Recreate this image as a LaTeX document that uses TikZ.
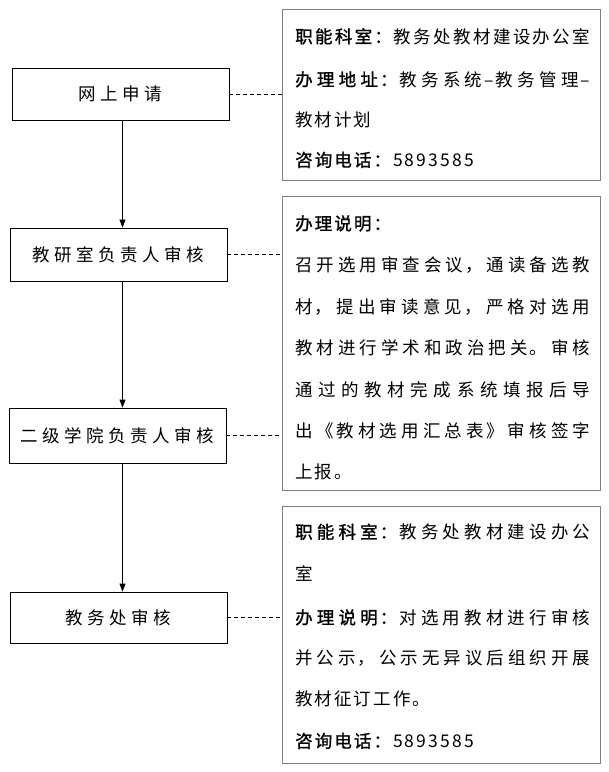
\documentclass[tikz,border=0pt]{standalone}
\usepackage{fontspec}
\setmainfont{Noto Sans CJK SC}
\newfontfamily\lfont[LetterSpace=26]{Noto Sans CJK SC}
\newfontfamily\rfont[LetterSpace=12,BoldFont={Noto Sans CJK SC},BoldFeatures={FakeBold=1.2}]{Noto Sans CJK SC}
\usetikzlibrary{arrows.meta}
\XeTeXlinebreaklocale "zh"
\XeTeXlinebreakskip=0pt plus 10pt
\newcommand\jline[1]{\parbox[b]{295pt}{\tolerance=10000\parfillskip=0pt\relax #1}}
\begin{document}
\begin{tikzpicture}[x=1pt,y=-1pt,
  lbox/.style={draw=black, line width=0.8pt, minimum width=217pt, inner sep=0pt,
    font=\lfont\fontsize{17.5pt}{20pt}\selectfont},
  rbox/.style={draw=black!50, line width=1pt, minimum width=318pt, inner sep=0pt},
  tl/.style={anchor=base west, inner sep=0pt, font=\rfont\fontsize{17.5pt}{20pt}\selectfont},
  arr/.style={-{Triangle[length=8pt,width=6pt]}, line width=0.8pt},
  dsh/.style={dash pattern=on 4pt off 3pt, line width=0.8pt}]
\fill[white] (0,0) rectangle (609,772);
\useasboundingbox (0,0) rectangle (609,772);
% left boxes
\node[lbox, minimum height=52pt] (s1) at (120.5,94) {网上申请};
\node[lbox, minimum height=53pt] (s2) at (118.5,254.5) {教研室负责人审核};
\node[lbox, minimum height=55pt] (s3) at (117.5,435.5) {二级学院负责人审核};
\node[lbox, minimum height=51pt] (s4) at (118.5,617.5) {教务处审核};
\coordinate (ax) at (122.5,0);
% right boxes
\node[rbox, minimum height=171pt] (rA) at (441,94.8) {};
\node[rbox, minimum height=294pt] (rB) at (441,343) {};
\node[rbox, minimum height=257pt] (rC) at (441,634.5) {};
% texts box A
\node[tl] (a1) at (295,43) {\jline{\textbf{职能科室：}教务处教材建设办公室}};
\node[tl] (a2) at (295,86) {\jline{\textbf{办理地址：}教务系统–教务管理–}};
\node[tl] (a3) at (295,126.5) {教材计划};
\node[tl] (a4) at (295,166.5) {\textbf{咨询电话：}5893585};
% texts box B
\node[tl] (b1) at (295,230) {\textbf{办理说明：}};
\node[tl] (b2) at (295,271.5) {\jline{召开选用审查会议，通读备选教}};
\node[tl] (b3) at (295,313) {\jline{材，提出审读意见，严格对选用}};
\node[tl] (b4) at (295,354.5) {\jline{教材进行学术和政治把关。审核}};
\node[tl] (b5) at (295,396.5) {\jline{通过的教材完成系统填报后导}};
\node[tl] (b6) at (295,437.5) {\jline{出《教材选用汇总表》审核签字}};
\node[tl] (b7) at (295,478) {上报。};
% texts box C
\node[tl] (c1) at (295,538.5) {\jline{\textbf{职能科室：}教务处教材建设办公}};
\node[tl] (c2) at (295,580.5) {室};
\node[tl] (c3) at (295,624) {\jline{\textbf{办理说明：}对选用教材进行审核}};
\node[tl] (c4) at (295,664.5) {\jline{并公示，公示无异议后组织开展}};
\node[tl] (c5) at (295,705.5) {教材征订工作。};
\node[tl] (c6) at (295,747.5) {\textbf{咨询电话：}5893585};
% connectors
\draw[arr] (s1.south -| ax) -- (s2.north -| ax);
\draw[arr] (s2.south -| ax) -- (s3.north -| ax);
\draw[arr] (s3.south -| ax) -- (s4.north -| ax);
\draw[dsh] (s1.east) -- (s1.east -| rA.west);
\draw[dsh] (s2.east) -- (s2.east -| rB.west);
\draw[dsh] (s3.east) -- (s3.east -| rB.west);
\draw[dsh] (s4.east) -- (s4.east -| rC.west);
\end{tikzpicture}
\end{document}
